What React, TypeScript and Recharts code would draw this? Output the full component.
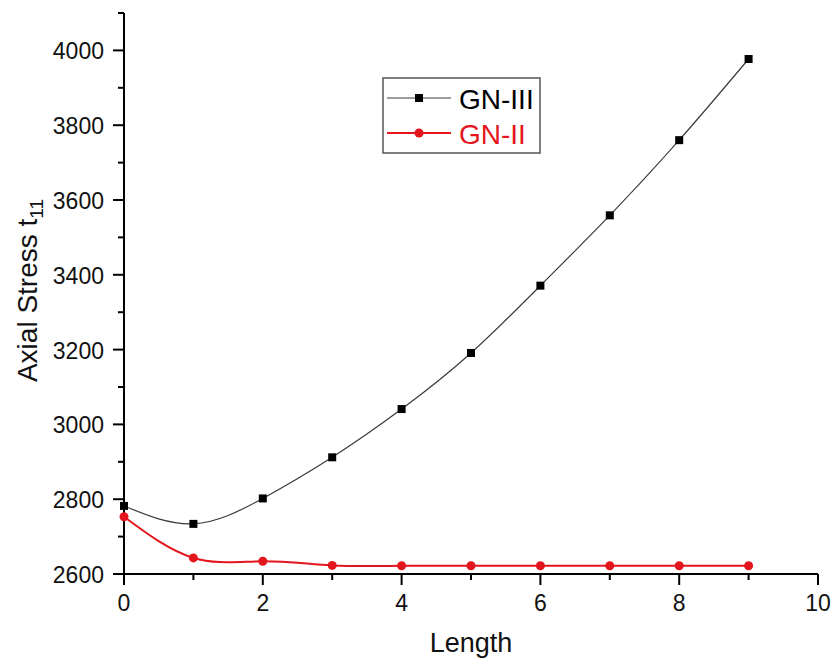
import { Label, Line, LineChart, XAxis, YAxis } from "recharts"

const lengths = [0, 1, 2, 3, 4, 5, 6, 7, 8, 9]
const gn3 = [2782, 2734, 2802, 2912, 3041, 3191, 3371, 3559, 3760, 3977]
const gn2 = [2753, 2643, 2634, 2623, 2622, 2622, 2622, 2622, 2622, 2622]

const xTicks = [0, 1, 2, 3, 4, 5, 6, 7, 8, 9, 10]
const yTicks = [
  2600, 2700, 2800, 2900, 3000, 3100, 3200, 3300, 3400, 3500, 3600, 3700,
  3800, 3900, 4000, 4100,
]

const data = lengths.map((len, i) => ({ len, gn3: gn3[i], gn2: gn2[i] }))

const FONT = "Arial, 'Liberation Sans', sans-serif"
const RED = "#e3161d"
const DARK = "#3a3a3a"

function XTick({ x, y, payload }: any) {
  const major = payload.value % 2 === 0
  return (
    <g>
      <line x1={x} x2={x} y1={y} y2={y + (major ? 11 : 6)} stroke="#000" strokeWidth={2} />
      {major && (
        <text x={x} y={y + 29} textAnchor="middle" dominantBaseline="central" fontSize={23} fontFamily={FONT} fill="#111">
          {payload.value}
        </text>
      )}
    </g>
  )
}

function YTick({ x, y, payload }: any) {
  const major = payload.value % 200 === 0
  return (
    <g>
      <line x1={x} x2={x - (major ? 11 : 6)} y1={y} y2={y} stroke="#000" strokeWidth={2} />
      {major && (
        <text x={x - 20} y={y + 1} textAnchor="end" dominantBaseline="central" fontSize={23} fontFamily={FONT} fill="#111">
          {payload.value}
        </text>
      )}
    </g>
  )
}

function SquareDot({ cx, cy }: any) {
  if (cx == null || cy == null) return null
  return <rect x={cx - 4} y={cy - 4} width={8} height={8} fill="#000" />
}

function RoundDot({ cx, cy }: any) {
  if (cx == null || cy == null) return null
  return <circle cx={cx} cy={cy} r={4.5} fill={RED} />
}

function YLabel({ viewBox }: any) {
  const cy = viewBox.y + viewBox.height / 2 - 3
  return (
    <text
      x={37}
      y={cy}
      transform={`rotate(-90 37 ${cy})`}
      textAnchor="middle"
      fontSize={28}
      fontFamily={FONT}
      fill="#111"
    >
      Axial Stress t
      <tspan fontSize={19} dy={6}>11</tspan>
    </text>
  )
}

function XLabel({ viewBox }: any) {
  const cx = viewBox.x + viewBox.width / 2
  return (
    <text x={cx} y={652} textAnchor="middle" fontSize={27} fontFamily={FONT} fill="#111">
      Length
    </text>
  )
}

function LegendBox() {
  const rows = [
    { name: "GN-III", color: DARK, text: "#000", square: true },
    { name: "GN-II", color: RED, text: RED, square: false },
  ]
  return (
    <svg width={160} height={77} style={{ display: "block" }}>
      <rect x={1} y={1} width={157} height={75} fill="#fff" stroke="#555" strokeWidth={1.5} />
      {rows.map((r, i) => {
        const y = 21 + i * 35
        return (
          <g key={r.name}>
            <line x1={5} x2={69} y1={y} y2={y} stroke={r.color} strokeWidth={r.square ? 1.2 : 2} />
            {r.square ? (
              <rect x={33} y={y - 4} width={8} height={8} fill="#000" />
            ) : (
              <circle cx={37} cy={y} r={4.5} fill={RED} />
            )}
            <text x={77} y={y + 1} dominantBaseline="central" fontSize={28} fontFamily={FONT} fill={r.text}>
              {r.name}
            </text>
          </g>
        )
      })}
    </svg>
  )
}

export default function App() {
  return (
    <div style={{ position: "absolute", left: 0, top: 0, width: 832, height: 660, background: "#fff" }}>
      <LineChart
        width={832}
        height={660}
        data={data}
        margin={{ top: 13, right: 14, left: 0, bottom: 0 }}
      >
        <XAxis
          dataKey="len"
          type="number"
          domain={[0, 10]}
          ticks={xTicks}
          interval={0}
          height={86}
          tickSize={0}
          tickMargin={0}
          tickLine={false}
          axisLine={{ stroke: "#000", strokeWidth: 2 }}
          tick={<XTick />}
        >
          <Label content={<XLabel />} />
        </XAxis>
        <YAxis
          type="number"
          domain={[2600, 4100]}
          ticks={yTicks}
          interval={0}
          width={124}
          tickSize={0}
          tickMargin={0}
          tickLine={false}
          axisLine={{ stroke: "#000", strokeWidth: 2 }}
          tick={<YTick />}
        >
          <Label content={<YLabel />} />
        </YAxis>
        <Line
          type="natural"
          dataKey="gn3"
          stroke={DARK}
          strokeWidth={1.2}
          dot={<SquareDot />}
          activeDot={false}
          isAnimationActive={false}
        />
        <Line
          type="natural"
          dataKey="gn2"
          stroke={RED}
          strokeWidth={2}
          dot={<RoundDot />}
          activeDot={false}
          isAnimationActive={false}
        />
      </LineChart>
      <div style={{ position: "absolute", left: 382, top: 77 }}>
        <LegendBox />
      </div>
    </div>
  )
}
